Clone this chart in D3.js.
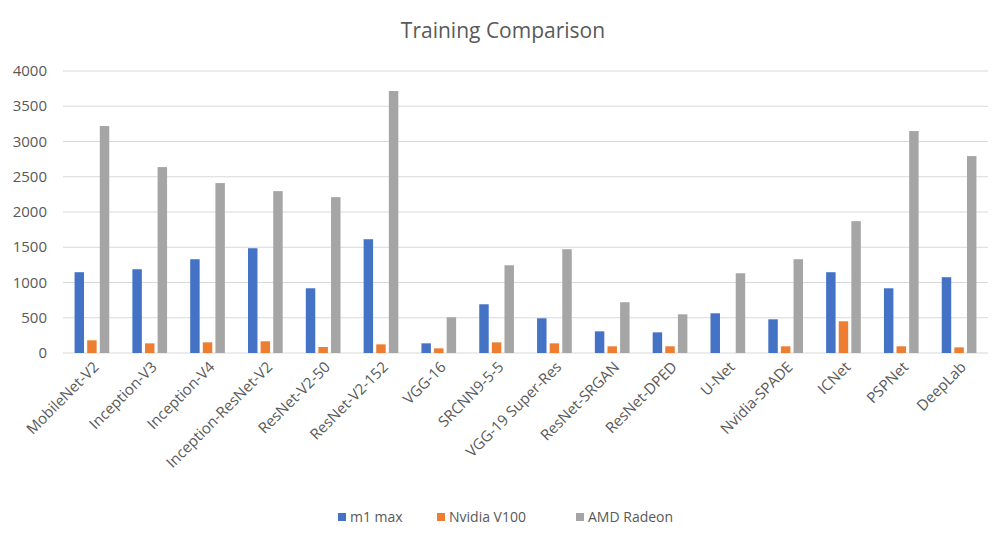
<!DOCTYPE html>
<html><head><meta charset="utf-8">
<script src="https://cdn.jsdelivr.net/npm/d3@7"></script>
<style>body{margin:0;background:#fff;font-family:Calibri,Carlito,"Open Sans",sans-serif;}</style>
</head><body><svg id="c" width="1006" height="540"></svg>
<script>
const categories=["MobileNet-V2","Inception-V3","Inception-V4","Inception-ResNet-V2","ResNet-V2-50","ResNet-V2-152","VGG-16","SRCNN9-5-5","VGG-19 Super-Res","ResNet-SRGAN","ResNet-DPED","U-Net","Nvidia-SPADE","ICNet","PSPNet","DeepLab"];
const seriesNames=["m1 max","Nvidia V100","AMD Radeon"];
const m1max=[1146,1188,1330,1486,918,1614,137,691,492,307,293,563,478,1146,918,1075];
const v100=[180,137,151,166,85,123,66,151,137,95,95,0,95,450,95,80];
const radeon=[3219,2637,2410,2296,2211,3716,507,1245,1472,720,549,1131,1330,1870,3148,2793];
const yTicks=[0,500,1000,1500,2000,2500,3000,3500,4000];
const colors=["#4472c4","#ed7d31","#a5a5a5"];
const series=[m1max,v100,radeon];

const svg=d3.select("#c");
const font="'Open Sans',sans-serif";
const L=63,R=988,T=71,B=353;
const x=d3.scaleBand().domain(categories).range([L,R]).paddingInner(0);
const y=d3.scaleLinear().domain([0,4000]).range([B,T]);
svg.append("text").attr("x",503).attr("y",38).attr("text-anchor","middle").attr("font-family",font).attr("font-size",21).attr("fill","#595959").text("Training Comparison");
svg.append("g").selectAll("line").data(yTicks).join("line").attr("x1",L).attr("x2",R).attr("y1",d=>y(d)).attr("y2",d=>y(d)).attr("stroke","#d9d9d9").attr("stroke-width",1.2);
svg.append("g").selectAll("text").data(yTicks).join("text").attr("x",47).attr("y",d=>y(d)+5).attr("text-anchor","end").attr("font-family",font).attr("font-size",15).attr("fill","#595959").text(d=>d);
const bw=x.bandwidth();
const xs=d3.scaleBand().domain([0,1,2]).range([bw*0.2,bw*0.8]).paddingInner(0.25);
series.forEach((s,si)=>{
  svg.append("g").selectAll("rect").data(s).join("rect")
   .attr("x",(d,i)=>x(categories[i])+xs(si)).attr("width",xs.bandwidth())
   .attr("y",d=>y(d)).attr("height",d=>B-y(d)).attr("fill",colors[si]);
});
svg.append("g").selectAll("text").data(categories).join("text")
 .attr("transform",d=>`translate(${x(d)+bw/2+8},${B+15}) rotate(-45)`)
 .attr("text-anchor","end").attr("font-family",font).attr("font-size",15).attr("fill","#595959").text(d=>d);
const lg=svg.append("g");
const lx=[338,437,576];
seriesNames.forEach((n,i)=>{
  lg.append("rect").attr("x",lx[i]).attr("y",513).attr("width",8).attr("height",8).attr("fill",colors[i]);
  lg.append("text").attr("x",lx[i]+12).attr("y",522).attr("font-family",font).attr("font-size",14).attr("fill","#595959").text(n);
});
</script></body></html>
